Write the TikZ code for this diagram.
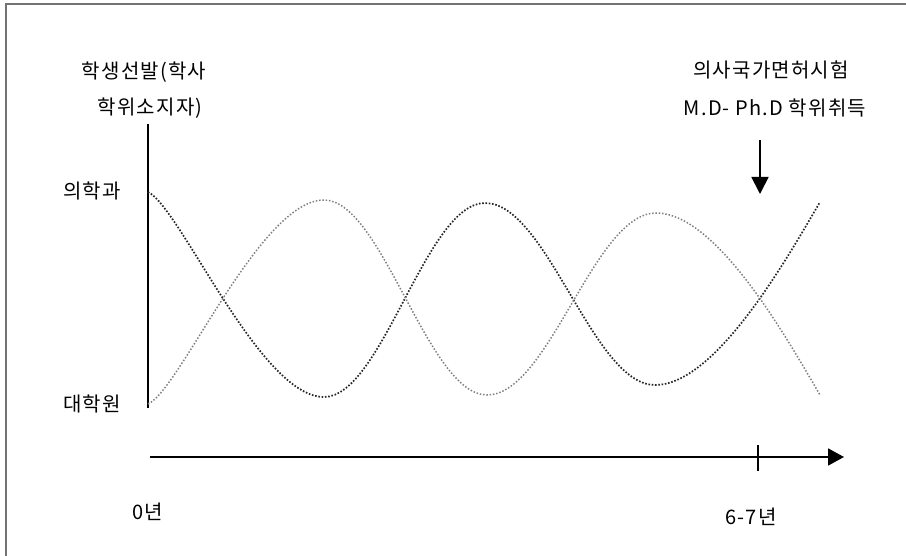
\documentclass[tikz,border=0pt]{standalone}
\usepackage{fontspec}
\setmainfont{Noto Sans CJK KR}[LetterSpace=6]
\usetikzlibrary{arrows.meta}
\tikzset{
  lbl/.style={inner sep=0pt, font=\fontsize{20}{24}\selectfont, text=black},
  axisline/.style={line width=1.8pt, black},
  darkdots/.style={line width=1.7pt, dash pattern=on 1.6pt off 1.7pt, black!85},
  lightdots/.style={line width=1.5pt, dash pattern=on 1.5pt off 1.8pt, black!50},
  frameline/.style={line width=1.8pt, black!55},
}
\begin{document}
\begin{tikzpicture}[x=1pt,y=-1pt]
\useasboundingbox (0,0) rectangle (906,556);
% frame (top and left only)
\draw[frameline] (6,4) -- (906,4);
\draw[frameline] (6,3.1) -- (6,556);

% labels
\node[lbl] (sel1) at (144,72) {학생선발(학사};
\node[lbl] (sel2) at (150,108) {학위소지자)};
\node[lbl] (lic1) at (771,70) {의사국가면허시험};
\node[lbl] (lic2) at (775,108) {M.D- Ph.D 학위취득};
\node[lbl, anchor=east] (med) at (121,191) {의학과};
\node[lbl, anchor=east] (grad) at (121,404) {대학원};
\node[lbl] (y0) at (148,512) {0년};
\node[lbl] (y67) at (751,517) {6-7년};

% vertical axis
\coordinate (vtop) at (148,124);
\coordinate (vbot) at (148,408);
\draw[axisline] (vtop) -- (vbot);

% time arrow
\coordinate (hstart) at (150,457);
\coordinate (hend) at (844,457);
\draw[axisline, -{Triangle[length=16pt,width=17pt]}] (hstart) -- (hend);
\coordinate (ticktop) at (758,445);
\coordinate (tickbot) at (758,471);
\draw[line width=1.4pt] (ticktop) -- (tickbot);

% down arrow
\coordinate (dtop) at (760,140);
\coordinate (dtip) at (760,194);
\draw[axisline, -{Triangle[length=17pt,width=17pt]}] (dtop) -- (dtip);

% curve A (dark): starts at 의학과 level
\coordinate (a0) at (148,192);
\coordinate (a1) at (324,397);
\coordinate (a2) at (485,203);
\coordinate (a3) at (655,385);
\coordinate (a4) at (820,202);
\draw[darkdots] (a0) .. controls (180,207) and (260,397) .. (a1)
  .. controls (382,397) and (426,203) .. (a2)
  .. controls (547,203) and (593,385) .. (a3)
  .. controls (715,385) and (785,262) .. (a4);

% curve B (light): starts at 대학원 level
\coordinate (b0) at (148,404);
\coordinate (b1) at (324,200);
\coordinate (b2) at (487,395);
\coordinate (b3) at (656,213);
\coordinate (b4) at (820,395);
\draw[lightdots] (b0) .. controls (180,390) and (260,200) .. (b1)
  .. controls (382,200) and (428,395) .. (b2)
  .. controls (549,395) and (594,213) .. (b3)
  .. controls (716,213) and (785,335) .. (b4);
\end{tikzpicture}
\end{document}
